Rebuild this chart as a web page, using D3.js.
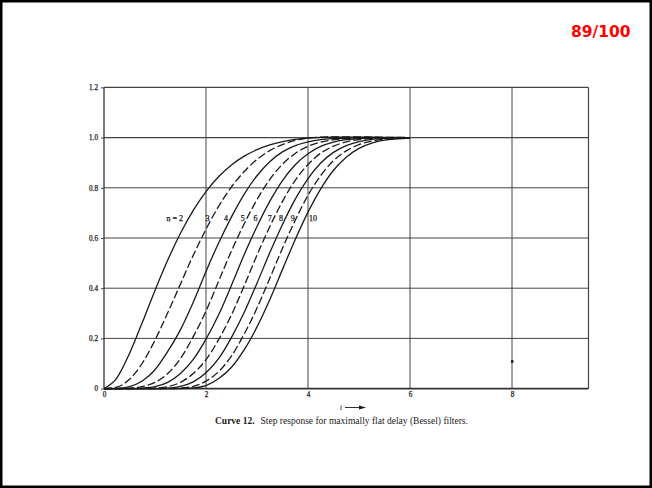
<!DOCTYPE html>
<html><head><meta charset="utf-8">
<script src="https://cdn.jsdelivr.net/npm/d3@7"></script>
<style>body{margin:0;background:#fff}svg{display:block}</style>
</head><body><svg id="c" width="652" height="488"></svg>
<script>
// ---- data ----
const tValues = [0,0.25,0.5,0.75,1,1.25,1.5,1.75,2,2.25,2.5,2.75,3,3.25,3.5,3.75,4,4.25,4.5,4.75,5,5.25,5.5,5.75,6];
const n2  = [0,.042,.140,.263,.391,.512,.619,.710,.785,.845,.891,.926,.952,.971,.984,.993,.998,1.001,1.002,1.002,1.002,1.002,1.001,1.001,1.000];
const n3  = [0,.006,.037,.101,.193,.302,.417,.531,.635,.727,.804,.865,.913,.948,.972,.989,.998,1.002,1.003,1.003,1.003,1.002,1.001,1.001,1.000];
const n4  = [0,.001,.008,.030,.075,.148,.235,.344,.467,.581,.684,.775,.848,.904,.943,.968,.983,.992,.996,.998,1,1,1,1,1];
const n5  = [0,0,.002,.008,.025,.060,.120,.207,.309,.429,.549,.657,.753,.833,.894,.937,.965,.982,.991,.996,.998,.999,1,1,1];
const n6  = [0,0,0,.002,.008,.025,.060,.116,.197,.295,.412,.534,.646,.746,.829,.892,.936,.965,.982,.992,.996,.999,1,1,1];
const n7  = [0,0,0,0,.002,.008,.025,.060,.115,.196,.294,.410,.532,.645,.746,.830,.893,.938,.966,.983,.992,.997,.999,1,1];
const n8  = [0,0,0,0,0,.002,.009,.027,.063,.120,.204,.304,.420,.541,.654,.755,.837,.899,.941,.968,.984,.993,.997,.999,1];
const n9  = [0,0,0,0,0,0,.002,.009,.030,.068,.130,.218,.321,.439,.559,.671,.770,.849,.908,.947,.972,.986,.994,.997,.999];
const n10 = [0,0,0,0,0,0,0,.003,.012,.040,.085,.155,.246,.354,.475,.594,.703,.796,.870,.922,.957,.978,.990,.995,.998];
const seriesOrder = [2,3,4,5,6,7,8,9,10];
const seriesValues = [n2,n3,n4,n5,n6,n7,n8,n9,n10];
const dashedSeries = [3,5,7,9];
const curveLabels = ["n = 2","3","4","5","6","7","8","9","10"];
const curveLabelT = [1.55,2.03,2.39,2.72,2.97,3.25,3.47,3.70,4.10];
const curveLabelV = 0.68;
const xTicks = [0,2,4,6,8];
const xTickLabels = ["0","2","4","6","8"];
const yTicks = [0,0.2,0.4,0.6,0.8,1.0,1.2];
const yTickLabels = ["0","0.2","0.4","0.6","0.8","1.0","1.2"];
const strayMark = [[8,0.107]];
const pageNumber = "89/100";
const captionBold = "Curve 12.";
const captionText = "Step response for maximally flat delay (Bessel) filters.";
const axisLabel = "t";

// ---- layout ----
const svg = d3.select("#c");
const x = d3.scaleLinear().domain([0,9.5]).range([104,588.5]);
const y = d3.scaleLinear().domain([0,1.2]).range([388.6,87.4]);
const ink = "#1a1a1a";
const serif = "'Liberation Serif','DejaVu Serif',serif";

svg.append("rect").attr("width",652).attr("height",488).attr("fill","#fff");
svg.append("rect").attr("x",1.25).attr("y",1.25).attr("width",649.5).attr("height",485.5)
  .attr("fill","none").attr("stroke","#000").attr("stroke-width",2.5);

svg.append("text").attr("x",571).attr("y",37)
  .attr("font-family","'DejaVu Sans',sans-serif").attr("font-weight","bold")
  .attr("font-size",15.5).attr("fill","#ff0000").text(pageNumber);

// grid
const g = svg.append("g");
g.selectAll("line.v").data(xTicks.filter(d=>d>0)).join("line")
  .attr("x1",d=>x(d)).attr("x2",d=>x(d)).attr("y1",y(0)).attr("y2",y(1.2))
  .attr("stroke","#444").attr("stroke-width",1);
g.selectAll("line.h").data(yTicks.filter(d=>d>0)).join("line")
  .attr("x1",x(0)).attr("x2",x(9.5)).attr("y1",d=>y(d)).attr("y2",d=>y(d))
  .attr("stroke","#444").attr("stroke-width",d=>d===1.2||d===1.0?1.3:1);
// frame
g.append("line").attr("x1",x(9.5)).attr("x2",x(9.5)).attr("y1",y(0)).attr("y2",y(1.2)).attr("stroke","#444").attr("stroke-width",1.2);
g.append("line").attr("x1",x(0)).attr("x2",x(0)).attr("y1",y(0)).attr("y2",y(1.2)).attr("stroke","#333").attr("stroke-width",1.3);
g.append("line").attr("x1",x(0)).attr("x2",x(9.5)).attr("y1",y(0)).attr("y2",y(0)).attr("stroke","#333").attr("stroke-width",1.8);

// axes
const ya = svg.append("g").attr("transform",`translate(${x(0)},0)`)
  .call(d3.axisLeft(y).tickValues(yTicks).tickFormat((d,i)=>yTickLabels[i]).tickSize(3).tickPadding(3));
ya.select(".domain").remove();
ya.selectAll("line").attr("stroke","#444");
ya.selectAll("text").attr("font-family",serif).attr("font-size",7.2).attr("fill",ink)
  .attr("stroke",ink).attr("stroke-width",0.25);
const xa = svg.append("g").attr("transform",`translate(0,${y(0)})`)
  .call(d3.axisBottom(x).tickValues(xTicks).tickFormat((d,i)=>xTickLabels[i]).tickSize(0).tickPadding(3.5));
xa.select(".domain").remove();
xa.selectAll("text").attr("font-family",serif).attr("font-size",7.2).attr("fill",ink)
  .attr("stroke",ink).attr("stroke-width",0.25);

// curves
const line = d3.line().x(d=>x(d[0])).y(d=>y(d[1])).curve(d3.curveMonotoneX);
seriesOrder.forEach((n,i)=>{
  const pts = tValues.map((t,j)=>[t,seriesValues[i][j]]);
  svg.append("path").attr("d",line(pts)).attr("fill","none")
    .attr("stroke",ink).attr("stroke-width",1.3)
    .attr("stroke-dasharray",dashedSeries.includes(n)?"8,3":null);
});

// curve labels
svg.selectAll("text.cl").data(curveLabels).join("text")
  .attr("x",(d,i)=>x(curveLabelT[i])).attr("y",y(curveLabelV)).attr("dy","0.35em")
  .attr("text-anchor",(d,i)=>i===0?"end":"middle")
  .attr("font-family",serif).attr("font-size",8).attr("fill",ink)
  .attr("stroke",ink).attr("stroke-width",0.25).text(d=>d);

// stray mark
svg.selectAll("rect.sm").data(strayMark).join("rect")
  .attr("x",d=>x(d[0])-1).attr("y",d=>y(d[1])-1.5).attr("width",2.5).attr("height",2.5).attr("fill","#111");

// t arrow
svg.append("text").attr("x",340).attr("y",410).attr("font-family",serif).attr("font-style","italic")
  .attr("font-size",8).attr("fill",ink).text(axisLabel);
svg.append("line").attr("x1",345).attr("x2",362).attr("y1",407.5).attr("y2",407.5).attr("stroke",ink).attr("stroke-width",0.9);
svg.append("path").attr("d","M359,405.5 L366,407.5 L359,409.5 Z").attr("fill",ink);

// caption
const cap = svg.append("text").attr("x",215).attr("y",424).attr("font-family",serif).attr("font-size",9.5).attr("fill",ink);
cap.append("tspan").attr("font-weight","bold").text(captionBold);
cap.append("tspan").attr("dx",6).text(captionText);
</script>
</body></html>
